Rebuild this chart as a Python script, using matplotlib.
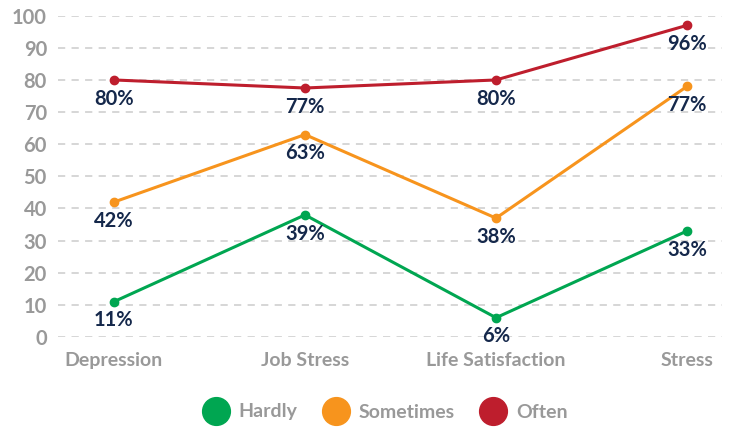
import matplotlib.pyplot as plt
from matplotlib.lines import Line2D

categories = ["Depression", "Job Stress", "Life Satisfaction", "Stress"]
hardly = [11, 38, 6, 33]
sometimes = [42, 63, 37, 78]
often = [80, 77.5, 80, 97]
hardly_labels = ["11%", "39%", "6%", "33%"]
sometimes_labels = ["42%", "63%", "38%", "77%"]
often_labels = ["80%", "77%", "80%", "96%"]
series_names = ["Hardly", "Sometimes", "Often"]
colors = ["#00a651", "#f7941d", "#be1e2d"]

plt.rcParams['font.family'] = ['Lato', 'DejaVu Sans']

fig = plt.figure(figsize=(7.29, 4.29), dpi=100)
ax = fig.add_axes([58 / 729, (429 - 337) / 429, (722 - 58) / 729, (337 - 15.7) / 429])

x = list(range(len(categories)))
all_series = [(hardly, hardly_labels), (sometimes, sometimes_labels), (often, often_labels)]
for (vals, labels), c in zip(all_series, colors):
    ax.plot(x, vals, color=c, lw=2.2, marker="o", ms=6, clip_on=False, zorder=3)
    for xi, v, lab in zip(x, vals, labels):
        ax.annotate(lab, (xi, v), xytext=(0, -13.5), textcoords="offset points",
                    ha="center", va="center", fontsize=14.5, fontweight="bold",
                    color="#15284b", zorder=4)

ax.set_ylim(0, 100)
ax.set_xlim(-0.293, 3.183)
ax.set_yticks(range(0, 101, 10))
ax.set_xticks(x)
ax.set_xticklabels(categories)
ax.yaxis.grid(True, color="#d3d3d3", lw=1.3, linestyle=(0, (4, 3.5)))
ax.set_axisbelow(True)
for s in ax.spines.values():
    s.set_visible(False)
ax.tick_params(axis="both", length=0, colors="#999999")
ax.tick_params(axis="y", pad=8, labelsize=14.5)
ax.tick_params(axis="x", pad=11, labelsize=14)
for t in ax.get_xticklabels() + ax.get_yticklabels():
    t.set_fontweight("bold")

handles = [Line2D([], [], color=c, marker="o", ms=20, lw=0) for c in colors]
leg = fig.legend(handles, series_names, loc="center", bbox_to_anchor=(382 / 729, 1 - 412 / 429),
                 ncol=3, frameon=False, handletextpad=0.15, columnspacing=1.0,
                 prop={"size": 14, "weight": "bold"})
for t in leg.get_texts():
    t.set_color("#999999")

fig.savefig("out.png", dpi=100)
